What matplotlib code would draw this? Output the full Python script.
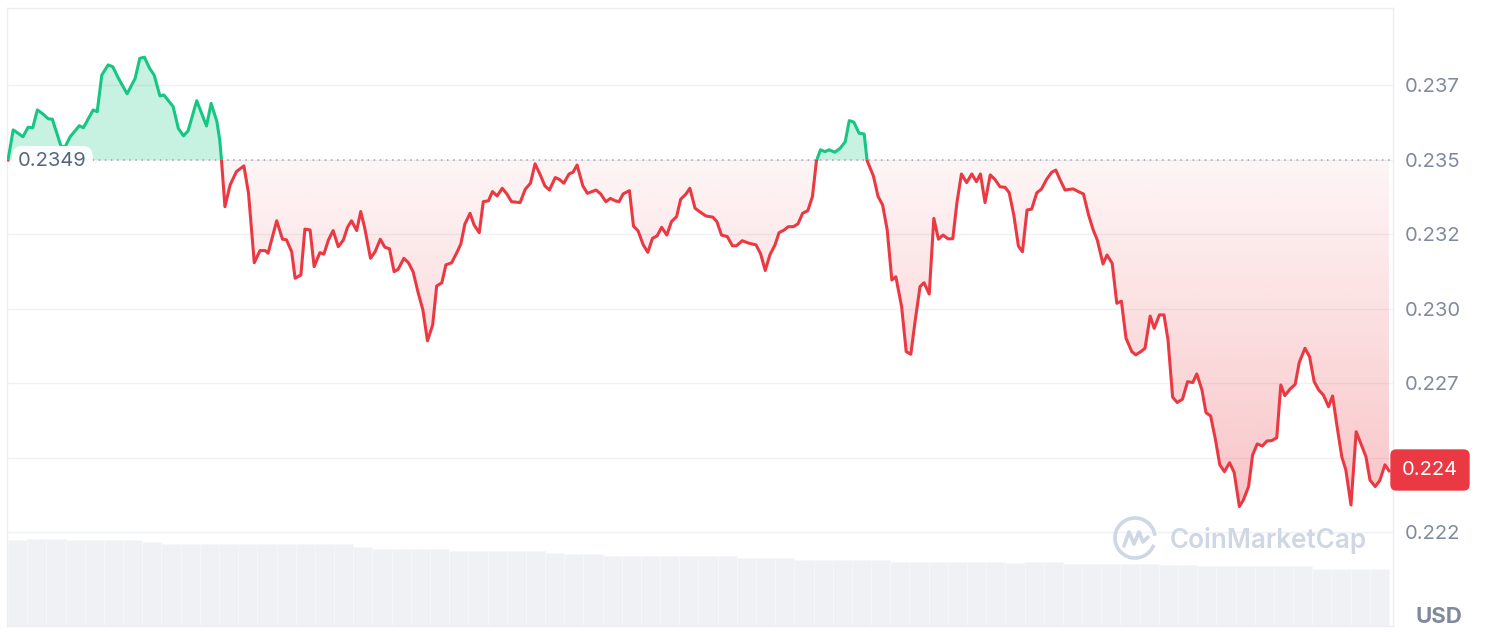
import numpy as np
import matplotlib
matplotlib.use('Agg')
import matplotlib.pyplot as plt
from matplotlib.patches import Rectangle, Arc
from matplotlib.path import Path
from matplotlib.lines import Line2D
from matplotlib.ticker import FixedLocator, FuncFormatter

plt.rcParams['font.family'] = ['Inter', 'DejaVu Sans']

# ---------------- data ----------------
open_price = 0.2349

hours = [
    0.00, 0.09, 0.26, 0.35, 0.43, 0.51, 0.61, 0.70, 0.77, 0.92,
    0.99, 1.08, 1.24, 1.31, 1.48, 1.55, 1.63, 1.74, 1.82, 1.92,
    2.07, 2.21, 2.29, 2.37, 2.46, 2.54, 2.64, 2.71, 2.87, 2.96,
    3.05, 3.13, 3.28, 3.45, 3.53, 3.63, 3.68, 3.71, 3.77, 3.86,
    3.97, 4.10, 4.18, 4.28, 4.38, 4.47, 4.52, 4.67, 4.77, 4.84,
    4.93, 4.99, 5.09, 5.16, 5.25, 5.32, 5.42, 5.49, 5.57, 5.65,
    5.74, 5.83, 5.90, 5.97, 6.06, 6.13, 6.20, 6.30, 6.38, 6.47,
    6.55, 6.63, 6.71, 6.78, 6.88, 6.96, 7.04, 7.13, 7.21, 7.29,
    7.38, 7.45, 7.54, 7.61, 7.71, 7.80, 7.87, 7.94, 8.03, 8.10,
    8.19, 8.26, 8.35, 8.42, 8.50, 8.59, 8.67, 8.75, 8.90, 8.99,
    9.08, 9.16, 9.25, 9.33, 9.41, 9.51, 9.58, 9.66, 9.75, 9.82,
    9.89, 9.99, 10.07, 10.22, 10.30, 10.39, 10.47, 10.55, 10.62, 10.69,
    10.80, 10.87, 10.95, 11.04, 11.12, 11.20, 11.28, 11.36, 11.45, 11.53,
    11.62, 11.69, 11.78, 11.85, 11.94, 12.03, 12.13, 12.25, 12.32, 12.40,
    12.50, 12.59, 12.66, 12.76, 12.87, 13.00, 13.08, 13.16, 13.24, 13.33,
    13.40, 13.49, 13.56, 13.65, 13.73, 13.81, 13.90, 13.98, 14.05, 14.12,
    14.20, 14.27, 14.37, 14.46, 14.55, 14.62, 14.70, 14.79, 14.88, 14.93,
    15.04, 15.12, 15.20, 15.28, 15.36, 15.43, 15.53, 15.61, 15.69, 15.76,
    15.85, 15.92, 16.01, 16.09, 16.17, 16.25, 16.34, 16.42, 16.49, 16.57,
    16.66, 16.75, 16.83, 16.90, 16.98, 17.07, 17.15, 17.24, 17.33, 17.40,
    17.48, 17.56, 17.63, 17.71, 17.79, 17.88, 17.96, 18.05, 18.14, 18.21,
    18.28, 18.37, 18.51, 18.60, 18.69, 18.78, 18.86, 18.93, 19.03, 19.10,
    19.19, 19.27, 19.35, 19.43, 19.53, 19.60, 19.69, 19.76, 19.85, 19.92,
    20.01, 20.09, 20.16, 20.24, 20.32, 20.41, 20.50, 20.59, 20.66, 20.75,
    20.82, 20.90, 20.98, 21.06, 21.14, 21.23, 21.31, 21.40, 21.47, 21.56,
    21.63, 21.71, 21.80, 21.88, 21.96, 22.05, 22.12, 22.19, 22.28, 22.37,
    22.44, 22.54, 22.62, 22.70, 22.78, 22.86, 22.95, 23.02, 23.10, 23.18,
    23.25, 23.34, 23.43, 23.51, 23.60, 23.67, 23.76, 23.84, 23.93, 24.00,
]

price = [
    0.23490, 0.23591, 0.23568, 0.23600, 0.23598, 0.23658, 0.23644, 0.23628, 0.23627, 0.23537,
    0.23533, 0.23568, 0.23605, 0.23598, 0.23658, 0.23652, 0.23775, 0.23809, 0.23803, 0.23764,
    0.23712, 0.23764, 0.23831, 0.23835, 0.23798, 0.23775, 0.23705, 0.23708, 0.23669, 0.23596,
    0.23571, 0.23588, 0.23689, 0.23604, 0.23680, 0.23619, 0.23557, 0.23490, 0.23333, 0.23406,
    0.23451, 0.23470, 0.23378, 0.23145, 0.23186, 0.23186, 0.23177, 0.23286, 0.23224, 0.23222,
    0.23182, 0.23093, 0.23104, 0.23258, 0.23255, 0.23132, 0.23179, 0.23174, 0.23222, 0.23253,
    0.23199, 0.23222, 0.23264, 0.23286, 0.23253, 0.23317, 0.23261, 0.23160, 0.23182, 0.23224,
    0.23197, 0.23192, 0.23115, 0.23123, 0.23160, 0.23145, 0.23115, 0.23043, 0.22987, 0.22883,
    0.22936, 0.23067, 0.23078, 0.23138, 0.23145, 0.23179, 0.23208, 0.23275, 0.23311, 0.23272,
    0.23246, 0.23350, 0.23353, 0.23384, 0.23369, 0.23395, 0.23376, 0.23350, 0.23347, 0.23392,
    0.23412, 0.23477, 0.23440, 0.23403, 0.23389, 0.23431, 0.23425, 0.23412, 0.23443, 0.23449,
    0.23473, 0.23403, 0.23378, 0.23389, 0.23376, 0.23350, 0.23361, 0.23353, 0.23350, 0.23376,
    0.23387, 0.23268, 0.23252, 0.23205, 0.23180, 0.23227, 0.23235, 0.23264, 0.23238, 0.23283,
    0.23300, 0.23358, 0.23375, 0.23395, 0.23328, 0.23315, 0.23302, 0.23298, 0.23283, 0.23238,
    0.23233, 0.23202, 0.23202, 0.23219, 0.23211, 0.23205, 0.23175, 0.23119, 0.23171, 0.23205,
    0.23246, 0.23255, 0.23266, 0.23266, 0.23276, 0.23311, 0.23320, 0.23367, 0.23487, 0.23524,
    0.23518, 0.23524, 0.23516, 0.23529, 0.23551, 0.23622, 0.23617, 0.23580, 0.23577, 0.23488,
    0.23436, 0.23368, 0.23339, 0.23255, 0.23087, 0.23098, 0.22998, 0.22847, 0.22838, 0.22942,
    0.23065, 0.23078, 0.23040, 0.23294, 0.23224, 0.23238, 0.23225, 0.23226, 0.23345, 0.23443,
    0.23414, 0.23443, 0.23417, 0.23443, 0.23347, 0.23440, 0.23425, 0.23400, 0.23398, 0.23380,
    0.23305, 0.23201, 0.23182, 0.23322, 0.23325, 0.23380, 0.23392, 0.23425, 0.23449, 0.23456,
    0.23425, 0.23389, 0.23393, 0.23384, 0.23376, 0.23305, 0.23255, 0.23222, 0.23141, 0.23171,
    0.23143, 0.23009, 0.23016, 0.22892, 0.22847, 0.22836, 0.22847, 0.22858, 0.22966, 0.22925,
    0.22970, 0.22970, 0.22886, 0.22694, 0.22676, 0.22687, 0.22746, 0.22743, 0.22772, 0.22718,
    0.22642, 0.22631, 0.22556, 0.22467, 0.22444, 0.22474, 0.22441, 0.22327, 0.22349, 0.22394,
    0.22500, 0.22537, 0.22530, 0.22547, 0.22548, 0.22558, 0.22735, 0.22699, 0.22721, 0.22737,
    0.22810, 0.22858, 0.22830, 0.22746, 0.22718, 0.22701, 0.22662, 0.22698, 0.22593, 0.22494,
    0.22450, 0.22332, 0.22578, 0.22539, 0.22494, 0.22416, 0.22394, 0.22414, 0.22467, 0.22447,
]

# volume per 20-minute bucket (relative units)
volume = [
    85.7, 87.3, 87.3, 85.7, 85.7, 85.7, 85.7, 83.7, 82.0, 82.0,
    82.0, 82.0, 82.0, 82.0, 82.0, 82.0, 82.0, 82.0, 79.0, 76.7,
    76.7, 76.7, 76.7, 74.7, 74.7, 74.7, 74.7, 74.7, 72.7, 71.7,
    71.7, 69.7, 69.7, 69.7, 69.7, 69.7, 69.7, 69.7, 67.7, 67.7,
    67.7, 65.7, 65.7, 65.7, 65.7, 65.7, 64.0, 64.0, 64.0, 64.0,
    64.0, 64.0, 62.7, 64.0, 64.0, 62.0, 62.0, 62.0, 62.0, 62.0,
    60.7, 60.7, 60.0, 60.0, 60.0, 60.0, 60.0, 60.0, 56.7, 56.7,
    56.7, 56.7,
]

tick_step = 0.0025
currency = 'USD'
watermark = 'CoinMarketCap'

# ---------------- styling ----------------
GREEN = '#16c784'
RED = '#ea3943'
GRID = '#eff1f4'
LABEL = '#808a9d'

W, H = 1486, 638
fig = plt.figure(figsize=(W / 100, H / 100), dpi=100, facecolor='white')


def fx(px):
    return px / W


def fy(py):
    return 1 - py / H


rect = [fx(7), fy(626), fx(1393) - fx(7), fy(8) - fy(626)]
ax_vol = fig.add_axes(rect, zorder=0)
ax = fig.add_axes(rect, zorder=1)
ax.patch.set_visible(False)

h = np.array(hours)
p = np.array(price)
base = open_price
x0, x1 = -0.0174, 24.07
y0, y1 = 0.21926, 0.24000

# volume bars
n_vol = len(volume)
bw = 24.0 / n_vol
vol_t = (np.arange(n_vol) + 0.5) * bw
ax_vol.bar(vol_t, volume, width=bw, color='#eff1f5', edgecolor='#f6f7f9', linewidth=0.6)
ax_vol.set_xlim(x0, x1)
ax_vol.set_ylim(0, max(volume) * 7.08)
ax_vol.axis('off')

# axis / grid
ticks = base + tick_step * np.arange(-5, 2)
hidden_tick = base - 4 * tick_step
ax.yaxis.set_major_locator(FixedLocator(ticks))
ax.yaxis.set_major_formatter(FuncFormatter(
    lambda v, _: '' if abs(v - hidden_tick) < 1e-9 else f'{v:.3f}'))
ax.yaxis.tick_right()
ax.tick_params(axis='y', length=0, pad=8.5, labelsize=14.5, labelcolor=LABEL)
ax.set_xticks([])
ax.grid(axis='y', color=GRID, lw=1.0, zorder=0)
ax.set_axisbelow(True)
for s in ax.spines.values():
    s.set_color('#eceef2')
    s.set_linewidth(1.0)

# green fill
ax.fill_between(h, p, base, where=p >= base, interpolate=True,
                color=GREEN, alpha=0.24, lw=0, zorder=1.3)

# red gradient fill
poly = ax.fill_between(h, p, base, where=p <= base, interpolate=True,
                       facecolor='none', edgecolor='none', lw=0)
cp = Path.make_compound_path(*poly.get_paths())
N = 256
rgba = np.zeros((N, 1, 4))
rgba[..., 0] = 234 / 255
rgba[..., 1] = 57 / 255
rgba[..., 2] = 67 / 255
rgba[:, 0, 3] = np.linspace(0.295, 0.05, N)
im = ax.imshow(rgba, extent=[h[0], h[-1], p.min(), base], origin='lower',
               aspect='auto', interpolation='bilinear', zorder=1.3)
im.set_clip_path(cp, ax.transData)

# baseline (open price)
ax.axhline(base, color='#9ea5b2', lw=1.1, ls=(0, (1, 3)), zorder=2)

# price line, coloured above / below the open
clip_up = Rectangle((x0, base), x1 - x0, y1 - base, transform=ax.transData)
clip_dn = Rectangle((x0, y0), x1 - x0, base - y0, transform=ax.transData)
lg, = ax.plot(h, p, color=GREEN, lw=2.2, zorder=3, solid_joinstyle='round')
lg.set_clip_path(clip_up)
lr, = ax.plot(h, p, color=RED, lw=2.2, zorder=3, solid_joinstyle='round')
lr.set_clip_path(clip_dn)

ax.set_xlim(x0, x1)
ax.set_ylim(y0, y1)

# watermark
ax.text(fx(1170), fy(540), watermark, transform=fig.transFigure, ha='left', va='center',
        fontsize=18.8, color='#cfd6e4', weight='semibold', zorder=0.8)
cx, cy = 1135, 538
ax.add_patch(Arc((fx(cx), fy(cy)), 40 / W, 40 / H, theta1=15, theta2=320,
                 transform=fig.transFigure, color='#cfd6e4', lw=2.6, zorder=0.8))
mx = [-11, -6, -1, 4, 8, 13]
my = [8, -6, 6, -6, 4, -1]
ax.add_line(Line2D([fx(cx + a) for a in mx], [fy(cy + b) for b in my],
                   transform=fig.transFigure, color='#cfd6e4', lw=2.6, zorder=0.8,
                   solid_joinstyle='round', solid_capstyle='round'))

# labels
fig.text(fx(18), fy(161), f'{base:.4f}', ha='left', va='center', fontsize=14.5, color='#58667e',
         bbox=dict(boxstyle='round,pad=0.3,rounding_size=0.5', fc='white', ec='none', alpha=0.9),
         zorder=5)
fig.text(fx(1430), fy(470), f'{p[-1]:.3f}', ha='center', va='center', fontsize=14.5, color='white',
         bbox=dict(boxstyle='round,pad=0.58,rounding_size=0.3', fc=RED, ec='none'), zorder=5)
fig.text(fx(1439), fy(617), currency, ha='center', va='center', fontsize=16,
         weight='bold', color=LABEL)

fig.savefig('out.png', dpi=100, facecolor='white')
